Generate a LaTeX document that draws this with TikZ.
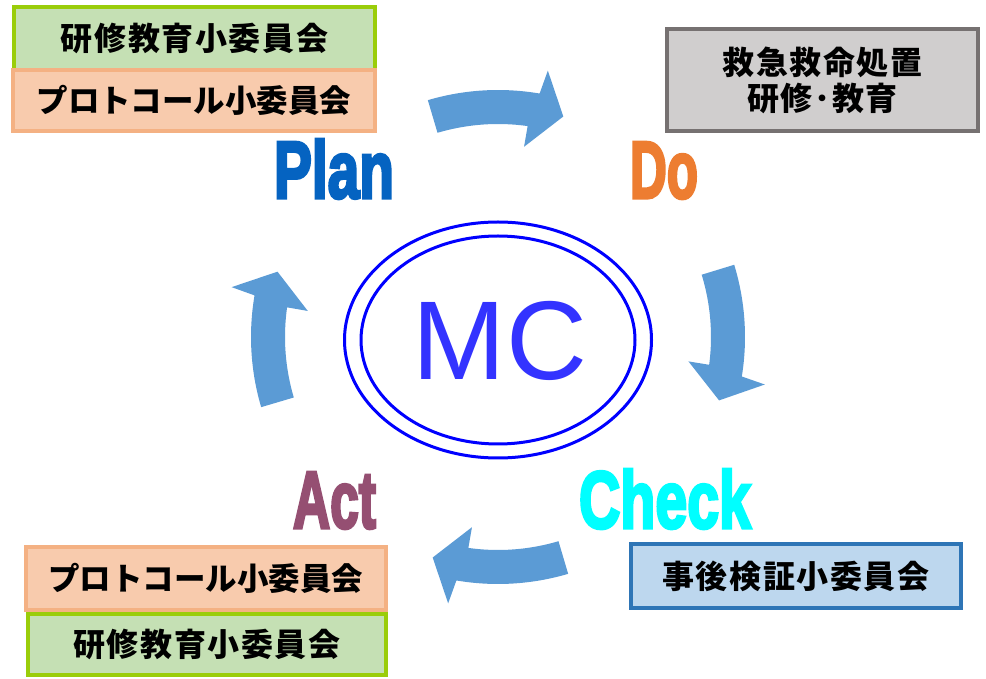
\documentclass[tikz,border=0pt]{standalone}
\usepackage{fontspec}
\usepackage{graphicx}
\newfontfamily\jpfont{Noto Sans CJK JP}[LetterSpace=5]
\newfontfamily\jpnarrow{Noto Sans CJK JP}
\newfontfamily\lblfont{Liberation Sans}[BoldFeatures={FakeBold=4}]
\newfontfamily\mcfont{Liberation Sans}
\definecolor{arrowblue}{HTML}{5B9BD5}
\definecolor{limeborder}{HTML}{9ACD0A}
\definecolor{greenfill}{HTML}{C5E0B4}
\definecolor{orangeborder}{HTML}{F4B183}
\definecolor{orangefill}{HTML}{F8CBAD}
\definecolor{grayborder}{HTML}{767171}
\definecolor{grayfill}{HTML}{D0CECE}
\definecolor{blueborder}{HTML}{2E75B6}
\definecolor{bluefill}{HTML}{BDD7EE}
\definecolor{planblue}{HTML}{0563C1}
\definecolor{doorange}{HTML}{ED7D31}
\definecolor{checkcyan}{HTML}{00FFFF}
\definecolor{actpurple}{HTML}{954F72}
\definecolor{mcring}{HTML}{0000FF}
\definecolor{mctext}{HTML}{3333FF}
\newcommand\cyclearrow[1]{%
  \fill[arrowblue] ({#1+16.5}:247pt) arc[start angle={#1+16.5}, end angle={#1-9.7}, radius=247pt]
    -- ({#1-10.6}:271pt) -- ({#1-16.5}:230pt) -- ({#1-7.8}:192pt) -- ({#1-8}:213pt)
    arc[start angle={#1-8}, end angle={#1+16.5}, radius=213pt] -- cycle;}
\begin{document}
\begin{tikzpicture}[x=1pt,y=1pt,
  box/.style={rectangle, inner sep=0pt, line width=4pt, text=black, align=center},
  wide/.style={font=\jpfont\bfseries\fontsize{32}{36}\selectfont},
  narrow/.style={font=\jpnarrow\bfseries\fontsize{31.5}{36}\selectfont},
  greenbox/.style={box, wide, draw=limeborder, fill=greenfill},
  orangebox/.style={box, narrow, draw=orangeborder, fill=orangefill},
  graybox/.style={box, wide, draw=grayborder, fill=grayfill},
  bluebox/.style={box, wide, draw=blueborder, fill=bluefill},
  phase/.style={inner sep=0pt, anchor=base, font=\lblfont\bfseries\fontsize{81}{81}\selectfont},
  ring/.style={draw=mcring, line width=3pt}]
\useasboundingbox (0,0) rectangle (986,678);
\fill[white] (0,0) rectangle (986,678);

% cycle arrows
\begin{scope}[shift={(498,341)}]
  \cyclearrow{90}
  \cyclearrow{0.5}
  \cyclearrow{270}
  \cyclearrow{180}
\end{scope}

% MC ellipse
\draw[ring] (498,338) ellipse [x radius=153.5pt, y radius=118pt];
\draw[ring] (498,338) ellipse [x radius=137pt, y radius=104pt];
\node[inner sep=0pt, anchor=base, text=mctext, font=\mcfont\fontsize{112}{112}\selectfont] (mc) at (500,298) {MC};

% top-left boxes
\node[greenbox, minimum width=361pt, minimum height=63pt] (tlgreen) at (194.5,639.5) {研修教育小委員会};
\node[orangebox, minimum width=362pt, minimum height=61pt] (tlorange) at (194,577.5) {プロトコール小委員会};

% top-right box
\node[graybox, minimum width=311pt, minimum height=102pt] (trgray) at (822.5,598) {救急救命処置\\研修･教育};

% check box
\node[bluebox, minimum width=330pt, minimum height=64pt] (chkbox) at (796,102) {事後検証小委員会};

% bottom-left boxes
\node[orangebox, minimum width=360pt, minimum height=63pt] (blorange) at (206,99.5) {プロトコール小委員会};
\node[greenbox, minimum width=358pt, minimum height=61pt] (blgreen) at (207,33.5) {研修教育小委員会};

% phase labels
\node[phase, text=planblue] (plan) at (334,480) {\resizebox{120pt}{\height}{Plan}};
\node[phase, text=doorange] (do) at (664,480) {\resizebox{68pt}{\height}{Do}};
\node[phase, text=checkcyan] (check) at (665,150) {\resizebox{172pt}{\height}{Check}};
\node[phase, text=actpurple] (act) at (334.5,150) {\resizebox{83pt}{\height}{Act}};
\end{tikzpicture}
\end{document}
